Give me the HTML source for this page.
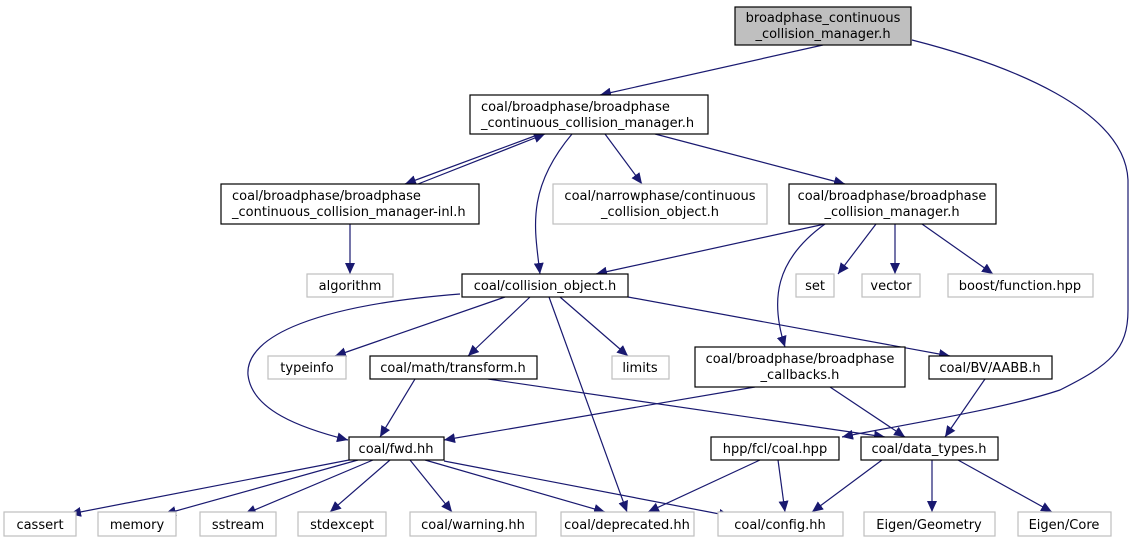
<!DOCTYPE html>
<html><head><meta charset="utf-8"><style>
html,body{margin:0;padding:0;background:#fff;}
svg{display:block;}
text{font-family:"DejaVu Sans","Liberation Sans",sans-serif;font-size:13px;fill:#000;}
.b{fill:#fff;stroke:#000;stroke-width:1.2;}
.g{fill:#fff;stroke:#bfbfbf;stroke-width:1.2;}
.e{fill:none;stroke:#191970;stroke-width:1.2;marker-end:url(#ah);}
</style></head><body>
<svg width="1136" height="544" viewBox="0 0 1136 544" xmlns="http://www.w3.org/2000/svg">
<defs><marker id="ah" markerUnits="userSpaceOnUse" markerWidth="12" markerHeight="10" refX="11" refY="5" orient="auto"><path d="M0,0 L11,5 L0,10 Z" fill="#191970"/></marker></defs>
<!-- edges -->
<path class="e" d="M823,45 L600,95"/>
<path class="e" d="M912,40 C1010,65 1125,110 1128,180 L1128,310 C1128,350 1110,365 1060,390 C1000,410 900,425 842,437"/>
<path class="e" d="M540,134 L405,184"/>
<path class="e" d="M418,184 L545,134"/>
<path class="e" d="M572,134 C525,190 535,230 540,274"/>
<path class="e" d="M605,134 L642,184"/>
<path class="e" d="M655,134 L845,184"/>
<path class="e" d="M350,224 L350,274"/>
<path class="e" d="M825,224 L596,274"/>
<path class="e" d="M825,224 C775,260 770,300 785,347"/>
<path class="e" d="M876,224 L838,274"/>
<path class="e" d="M895,224 L895,274"/>
<path class="e" d="M922,224 L993,274"/>
<path class="e" d="M460,294 C320,305 245,335 248,375 C252,410 300,428 348,440"/>
<path class="e" d="M505,297 L335,356"/>
<path class="e" d="M530,297 L468,356"/>
<path class="e" d="M549,297 L627,512"/>
<path class="e" d="M560,297 L628,356"/>
<path class="e" d="M628,297 L950,356"/>
<path class="e" d="M415,379 L380,437"/>
<path class="e" d="M488,379 L885,437"/>
<path class="e" d="M755,387 L444,440"/>
<path class="e" d="M830,387 L905,437"/>
<path class="e" d="M985,379 L945,437"/>
<path class="e" d="M349,460 L70,514"/>
<path class="e" d="M358,460 L165,514"/>
<path class="e" d="M373,460 L245,514"/>
<path class="e" d="M390,460 L330,512"/>
<path class="e" d="M410,460 L452,512"/>
<path class="e" d="M425,460 L605,512"/>
<path class="e" d="M444,461 L730,516"/>
<path class="e" d="M760,460 L648,512"/>
<path class="e" d="M778,460 L785,512"/>
<path class="e" d="M882,460 L812,512"/>
<path class="e" d="M932,460 L932,512"/>
<path class="e" d="M958,460 L1052,512"/>
<!-- nodes -->
<rect x="735" y="7" width="176" height="38" fill="#bfbfbf" stroke="#000" stroke-width="1.2"/>
<text x="823" y="22" text-anchor="middle">broadphase_continuous</text>
<text x="823" y="38" text-anchor="middle">_collision_manager.h</text>
<rect class="b" x="470" y="95" width="238" height="39"/>
<text x="481" y="111">coal/broadphase/broadphase</text>
<text x="481" y="127">_continuous_collision_manager.h</text>
<rect class="b" x="221" y="184" width="258" height="40"/>
<text x="232" y="200">coal/broadphase/broadphase</text>
<text x="232" y="216">_continuous_collision_manager-inl.h</text>
<rect class="g" x="553" y="184" width="214" height="40"/>
<text x="660" y="200" text-anchor="middle">coal/narrowphase/continuous</text>
<text x="660" y="216" text-anchor="middle">_collision_object.h</text>
<rect class="b" x="789" y="184" width="207" height="40"/>
<text x="892" y="200" text-anchor="middle">coal/broadphase/broadphase</text>
<text x="892" y="216" text-anchor="middle">_collision_manager.h</text>
<rect class="g" x="307" y="274" width="86" height="23"/><text x="350" y="290" text-anchor="middle">algorithm</text>
<rect class="b" x="462" y="274" width="166" height="23"/><text x="545" y="290" text-anchor="middle">coal/collision_object.h</text>
<rect class="g" x="796" y="274" width="38" height="23"/><text x="815" y="290" text-anchor="middle">set</text>
<rect class="g" x="862" y="274" width="58" height="23"/><text x="891" y="290" text-anchor="middle">vector</text>
<rect class="g" x="948" y="274" width="145" height="23"/><text x="1020" y="290" text-anchor="middle">boost/function.hpp</text>
<rect class="g" x="268" y="356" width="78" height="23"/><text x="307" y="372" text-anchor="middle">typeinfo</text>
<rect class="b" x="370" y="356" width="167" height="23"/><text x="453" y="372" text-anchor="middle">coal/math/transform.h</text>
<rect class="g" x="612" y="356" width="57" height="23"/><text x="640" y="372" text-anchor="middle">limits</text>
<rect class="b" x="695" y="347" width="210" height="40"/>
<text x="800" y="363" text-anchor="middle">coal/broadphase/broadphase</text>
<text x="800" y="379" text-anchor="middle">_callbacks.h</text>
<rect class="b" x="929" y="356" width="123" height="23"/><text x="990" y="372" text-anchor="middle">coal/BV/AABB.h</text>
<rect class="b" x="349" y="437" width="95" height="23"/><text x="396" y="453" text-anchor="middle">coal/fwd.hh</text>
<rect class="b" x="711" y="437" width="128" height="23"/><text x="775" y="453" text-anchor="middle">hpp/fcl/coal.hpp</text>
<rect class="b" x="861" y="437" width="137" height="23"/><text x="929" y="453" text-anchor="middle">coal/data_types.h</text>
<rect class="g" x="4" y="512" width="72" height="24"/><text x="40" y="529" text-anchor="middle">cassert</text>
<rect class="g" x="98" y="512" width="78" height="24"/><text x="137" y="529" text-anchor="middle">memory</text>
<rect class="g" x="200" y="512" width="76" height="24"/><text x="238" y="529" text-anchor="middle">sstream</text>
<rect class="g" x="298" y="512" width="88" height="24"/><text x="342" y="529" text-anchor="middle">stdexcept</text>
<rect class="g" x="410" y="512" width="126" height="24"/><text x="473" y="529" text-anchor="middle">coal/warning.hh</text>
<rect class="g" x="561" y="512" width="133" height="24"/><text x="627" y="529" text-anchor="middle">coal/deprecated.hh</text>
<rect class="g" x="718" y="512" width="125" height="24"/><text x="780" y="529" text-anchor="middle">coal/config.hh</text>
<rect class="g" x="864" y="512" width="131" height="24"/><text x="929" y="529" text-anchor="middle">Eigen/Geometry</text>
<rect class="g" x="1018" y="512" width="93" height="24"/><text x="1064" y="529" text-anchor="middle">Eigen/Core</text>
</svg>
</body></html>
